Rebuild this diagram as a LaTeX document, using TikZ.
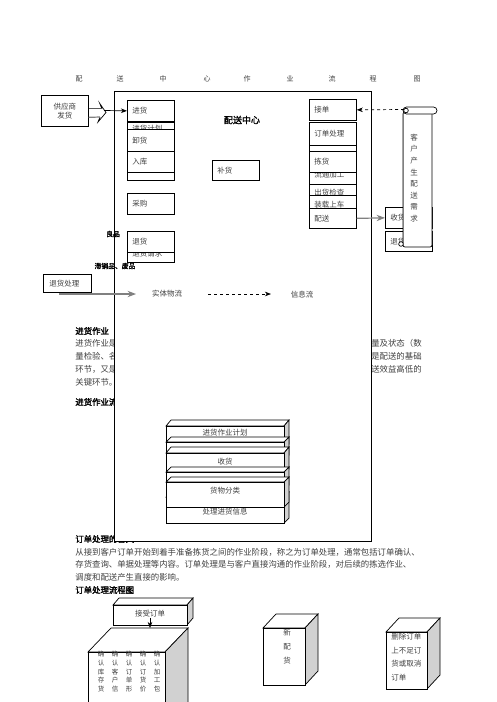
\documentclass[tikz,border=0pt]{standalone}
\usepackage{fontspec}
\setmainfont{Noto Sans CJK SC}[AutoFakeBold=2]
\usetikzlibrary{arrows.meta,positioning}
\definecolor{ink}{gray}{0.25}
\definecolor{side}{gray}{0.82}
\definecolor{arr}{gray}{0.5}
% 3D block: x, y (front top), width, height, depth x, depth y
\newcommand{\solid}[6]{%
  \draw[fill=white] (#1,#2) -- ++(#5,#6) -- ++(#3,0) -- (#1+#3,#2) -- cycle;
  \draw[fill=side] (#1+#3,#2) -- ++(#5,#6) -- ++(0,#4) -- (#1+#3,#2+#4) -- cycle;
  \draw[fill=white] (#1,#2) rectangle ++(#3,#4);}

\begin{document}
\begin{tikzpicture}[x=1pt,y=-1pt,>=Stealth,line width=0.7pt,
  blk/.style={draw,fill=white,inner xsep=5pt,inner ysep=0pt,text width=37pt,
    minimum height=#1,align=left,anchor=north west,text=ink,
    font=\fontsize{7.5}{9}\selectfont},
  blk/.default=21pt,
  txt/.style={inner sep=0pt,anchor=west,text=ink,font=\fontsize{8.4}{12}\selectfont},
  hd/.style={inner sep=0pt,anchor=west,text=black,font=\bfseries\fontsize{8.4}{12}\selectfont},
  lab/.style={inner sep=0pt,text=ink,font=\fontsize{7.5}{9}\selectfont},
  tag/.style={inner sep=0pt,text=black,font=\bfseries\fontsize{6.8}{8}\selectfont},
  grid/.style={inner sep=0pt,text=ink,font=\fontsize{6.5}{7}\selectfont}]
\useasboundingbox[fill=white] (0,0) rectangle (496,702);

% title
\foreach \c/\x [count=\i] in {配/79,送/120,中/163,心/207,作/247,业/290,流/332,程/373,图/417}
  \node[lab,font=\fontsize{7}{8}\selectfont] (t\i) at (\x,79) {\c};

% text behind the frame
\node[hd] (h1) at (75,331) {进货作业};
\node[txt] (p1a) at (75,343) {进货作业是};
\node[txt] (p1b) at (75,356) {量检验、名};
\node[txt] (p1c) at (75,369) {环节，又是};
\node[txt] (p1d) at (75,382) {关键环节。};
\node[txt,anchor=east] (p1e) at (422,343) {量及状态（数};
\node[txt,anchor=east] (p1f) at (422,356) {是配送的基础};
\node[txt,anchor=east] (p1g) at (422,369) {送效益高低的};
\node[hd] (h2) at (75,402) {进货作业流程};
\node[hd] (h3) at (75,539) {订单处理的含义};

% distribution centre frame
\node[draw,fill=white,anchor=north west,inner sep=0pt,minimum width=257pt,minimum height=450pt] (frame) at (114,91) {};
\node[inner sep=0pt,font=\bfseries\fontsize{9}{10}\selectfont] (dc) at (242,120) {配送中心};

% left column
\node[blk] (jh) at (127,100) {进货};
\node[blk=12pt] (jhjh) at (127,122) {进货计划};
\node[blk=22pt] (xh) at (127,129) {卸货};
\node[blk=8pt] (rkb) at (127,172) {};
\node[blk] (rk) at (127,151) {入库};
\node[blk] (cg) at (127,193) {采购};
\node[blk=17pt] (thqq) at (127,245) {退货请求};
\node[blk] (th) at (127,231) {退货};
\node[blk=20pt] (bh) at (212,160) {补货};

% right column
\node[blk] (jd) at (309,99) {接单};
\node[blk=23pt] (ddcl) at (309,122) {订单处理};
\node[blk=6pt] (ddb) at (309,145) {};
\node[blk=28pt] (ltjg) at (309,160) {流通加工};
\node[blk] (jhh) at (309,151) {拣货};
\node[blk=17pt] (chjc) at (309,184) {出货检查};
\node[blk=18pt] (zzsc) at (309,195) {装载上车};
\node[blk=20pt] (ps) at (309,208) {配送};
\node[blk] (sh) at (385,207) {收货};
\node[blk=20pt] (th2) at (385,231) {退货};

% outside boxes
\node[blk=31pt,align=center] (gys) at (41,95) {供应商\\发货};
\node[blk=18pt,inner xsep=6pt,text width=36pt] (thcl) at (43,274) {退货处理};
\node[tag] (lp) at (113,234) {良品};
\node[tag] (zx) at (115,266) {滞销品、废品};

% supplier arrow
\draw ([yshift=2.5pt]gys.east) -- ++(13,0) -- ++(-2,-5) -- (106,112.5) -- (98,122) -- (100,117);
\draw[arr,line width=1.2pt] (100,117) -- ([yshift=-6.5pt]gys.east);
\coordinate (tip) at (104,110.5);
\draw[->] (tip) -- (jh.west);

% customer scroll
\draw[fill=white,rounded corners=2pt] (403,112) rectangle (432,247);
\draw[arr,line width=1.2pt] (403.5,114) -- (403.5,243);
\draw[fill=white,rounded corners=3.5pt] (403,107) rectangle (437,114);
\draw[fill=white] (406,110.5) circle (2.3);
\draw[fill=white] (401,244) circle (2.3);
\node[lab,align=center,font=\fontsize{7.5}{11.6}\selectfont] (kh) at (414,178) {客\\户\\产\\生\\配\\送\\需\\求};
\coordinate (sc) at (404,109.5);
\draw[dashed,->] (sc) -- (jd.east);
\draw[arr,line width=1.2pt,->] (ps.east) -- (sh.west);

% legend
\coordinate (w0) at (59,294);
\coordinate (w1) at (136,294);
\draw[arr,line width=1.2pt,->] (w0) -- (w1);
\node[lab] (stwl) at (167,294) {实体物流};
\coordinate (d0) at (208,294);
\coordinate (d1) at (271,294);
\draw[dashed,->] (d0) -- (d1);
\node[lab] (xxl) at (302,295) {信息流};

% receiving stack
\solid{166}{426}{118}{24}{5}{-6}
\node[lab] (sa) at (225,433) {进货作业计划};
\solid{166}{442}{118}{18}{5}{-5}
\solid{166}{453}{118}{22}{5}{-6}
\node[lab] (sc2) at (225,462) {收货};
\solid{166}{472}{118}{18}{5}{-5}
\solid{166}{497}{118}{26}{5}{-5}
\node[lab] (sf) at (225,512) {处理进货信息};
\solid{166}{482}{118}{25}{5}{-5}
\node[lab] (se) at (225,491) {货物分类};

% order processing text
\node[txt] (p2a) at (75,552) {从接到客户订单开始到着手准备拣货之间的作业阶段，称之为订单处理，通常包括订单确认、};
\node[txt] (p2b) at (75,564) {存货查询、单据处理等内容。订单处理是与客户直接沟通的作业阶段，对后续的拣选作业、};
\node[txt] (p2c) at (75,577) {调度和配送产生直接的影响。};
\node[hd] (h4) at (75,590) {订单处理流程图};

% order flow blocks
\solid{88}{652}{77}{80}{23}{-24}
\foreach \row [count=\j] in {{确,确,确,确,确},{认,认,认,认,认},{库,客,订,订,加},{存,户,单,货,工},{货,信,形,价,包}}
  \foreach \c [count=\i] in \row
    \node[grid] (g\j\i) at ({87+14*\i},{645.2+8.8*\j}) {\c};
\solid{113}{605}{74}{20}{6}{-7}
\node[lab] (jsdd) at (150,614) {接受订单};
\coordinate (dd) at (150,628);
\draw[->] (jsdd.south) -- (dd);
\solid{263}{628}{42}{57}{13}{-14}
\node[lab,align=center,font=\fontsize{7.5}{14}\selectfont] (xph) at (287,647) {新\\配\\货};
\solid{386}{632}{41}{57}{13}{-14}
\node[lab,align=left,anchor=north west,font=\fontsize{7.5}{13.6}\selectfont] (sc3) at (391,633) {删除订单\\上不足订\\货或取消\\订单};
\end{tikzpicture}
\end{document}
